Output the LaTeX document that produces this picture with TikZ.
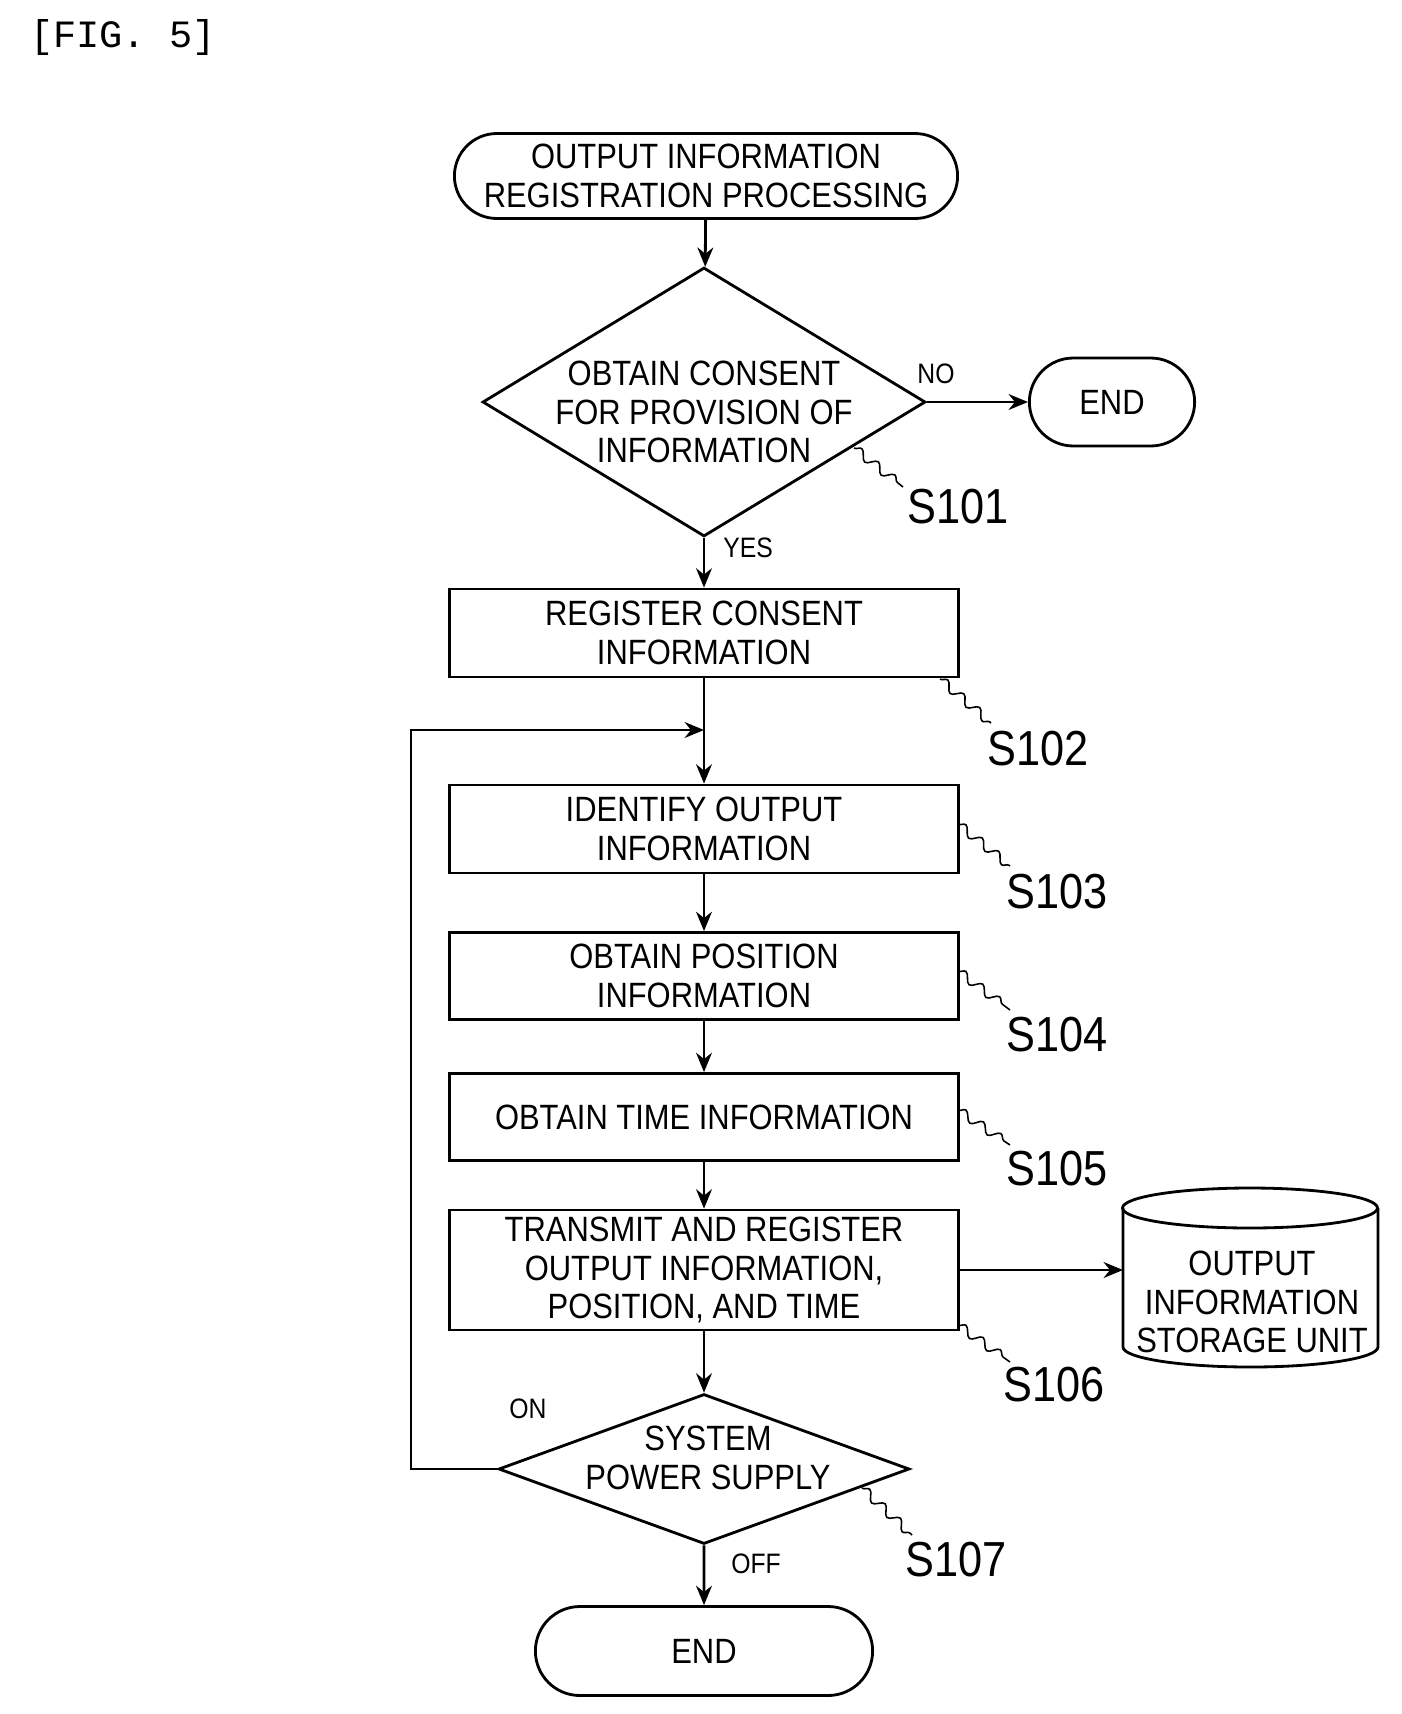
\documentclass[tikz,border=0pt]{standalone}
\usepackage{fontspec}
\setmainfont[FakeStretch=0.88]{Liberation Sans}
\newfontfamily\figfont{Liberation Mono}
\usetikzlibrary{shapes.geometric,shapes.misc,decorations.pathmorphing,arrows.meta}
\tikzset{
  box/.style={rectangle, draw, line width=1.6pt, minimum width=10.18cm, align=center, font=\fontsize{20}{22}\selectfont},
  term/.style={rounded rectangle, draw, line width=1.6pt, align=center, font=\fontsize{20}{22}\selectfont},
  dia/.style={diamond, draw, line width=1.6pt, inner sep=0pt},
  txt/.style={align=center, font=\fontsize{20}{22}\selectfont},
  stepno/.style={font=\fontsize{28}{30}\selectfont},
  yn/.style={font=\fontsize{16}{18}\selectfont},
  squig/.style={line width=0.9pt, decorate, decoration={snake, segment length=12pt, amplitude=2.5pt}},
  flow/.style={-{Stealth[length=11pt,width=9pt]}, line width=1.6pt}
}
\begin{document}
\begin{tikzpicture}[x=0.02cm, y=-0.02cm]
\useasboundingbox (0,0) rectangle (1402,1714);

%Title
\node[font=\figfont\fontsize{22}{24}\selectfont] (fig) at (123,38) {[FIG. 5]};

%Start
\node[term, minimum width=10.3cm, minimum height=1.7cm] (start) at (706,176) {OUTPUT INFORMATION\\REGISTRATION PROCESSING};

%S101
\node[dia, minimum width=8.86cm, minimum height=5.38cm] (d101) at (704,402) {};
\node[txt] (t101) at (704,412) {OBTAIN CONSENT\\FOR PROVISION OF\\INFORMATION};
\node[term, minimum width=3.54cm, minimum height=1.76cm] (end1) at (1112,402) {END};
\node[stepno] (l101) at (958,507) {S101};

%S102
\node[box, minimum height=1.76cm] (s102) at (704,633) {REGISTER CONSENT\\INFORMATION};
\node[stepno] (l102) at (1038,749) {S102};
\coordinate (join) at (704,730);

%S103
\node[box, minimum height=1.76cm] (s103) at (704,829) {IDENTIFY OUTPUT\\INFORMATION};
\node[stepno] (l103) at (1057,892) {S103};

%S104
\node[box, minimum height=1.74cm] (s104) at (704,976) {OBTAIN POSITION\\INFORMATION};
\node[stepno] (l104) at (1057,1035) {S104};

%S105
\node[box, minimum height=1.74cm] (s105) at (704,1117) {OBTAIN TIME INFORMATION};
\node[stepno] (l105) at (1057,1169) {S105};

%S106
\node[box, minimum height=2.4cm] (s106) at (704,1270) {TRANSMIT AND REGISTER\\OUTPUT INFORMATION,\\POSITION, AND TIME};
\node[stepno] (l106) at (1054,1385) {S106};

%Storage
\draw[line width=1.6pt, fill=white] (1123,1208) -- (1123,1347) arc[start angle=180, end angle=360, x radius=127.5, y radius=-20] -- (1378,1208);
\draw[line width=1.6pt] (1250,1208) ellipse[x radius=127.5, y radius=-20];
\node[txt] (store) at (1252,1302) {OUTPUT\\INFORMATION\\STORAGE UNIT};
\coordinate (storein) at (1123,1270);

%S107
\node[dia, minimum width=8.22cm, minimum height=3.0cm] (d107) at (704,1469) {};
\node[txt] (t107) at (708,1458) {SYSTEM\\POWER SUPPLY};
\node[stepno] (l107) at (956,1560) {S107};
\node[term, minimum width=6.98cm, minimum height=1.78cm] (end2) at (704,1651) {END};

%Labels
\node[yn] at (936,374) {NO};
\node[yn] at (748,548) {YES};
\node[yn] at (528,1409) {ON};
\node[yn] at (756,1564) {OFF};

%Arrows
\draw[flow] (start) -- (d101);
\draw[flow] (d101) -- (end1);
\draw[flow] (d101) -- (s102);
\draw[line width=1.6pt] (s102) -- (join);
\draw[flow] (join) -- (s103);
\draw[flow] (s103) -- (s104);
\draw[flow] (s104) -- (s105);
\draw[flow] (s105) -- (s106);
\draw[flow] (s106.east) -- (storein);
\draw[flow] (s106) -- (d107);
\draw[flow] (d107) -- (end2);
\draw[flow] (d107.west) -- (411,1469) -- (411,730) -- (join);

%Squiggles
\draw[squig] (854,448) -- (903,487);
\draw[squig] (940,679) -- (991,723);
\draw[squig] (958,824) -- (1010,866);
\draw[squig] (958,971) -- (1010,1010);
\draw[squig] (958,1110) -- (1010,1145);
\draw[squig] (958,1325) -- (1010,1362);
\draw[squig] (862,1488) -- (912,1535);
\end{tikzpicture}
\end{document}
